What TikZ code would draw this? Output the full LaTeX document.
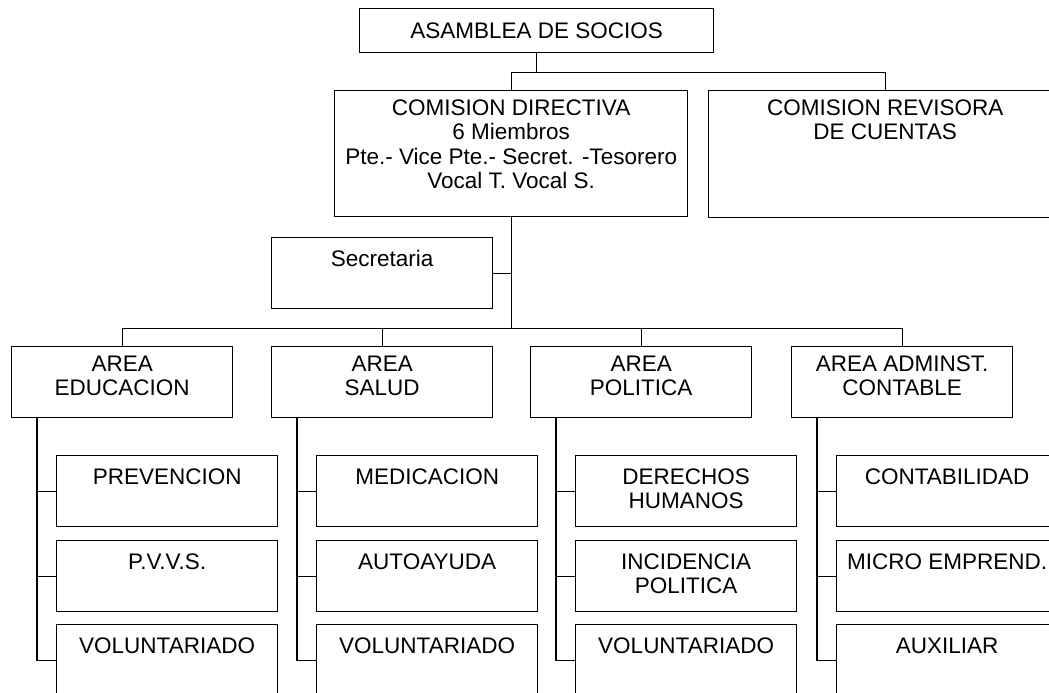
\documentclass[tikz,border=0pt]{standalone}
\usepackage{fontspec}
\setmainfont{Liberation Sans}
\usetikzlibrary{positioning}

\begin{document}
\begin{tikzpicture}[x=1pt, y=-1pt, line width=1.3pt,
unit/.style={draw, anchor=north west, minimum width=221pt, minimum height=71pt, inner sep=0pt},
caption/.style={anchor=north, align=center, inner sep=0pt, yshift=-13pt, font=\fontsize{22.5}{24.5}\selectfont},
head/.style={caption, yshift=4pt}]

\useasboundingbox (0,0) rectangle (1049,693);

\node[unit, minimum width=354pt, minimum height=44pt, label={[caption, yshift=-1pt]north:ASAMBLEA DE SOCIOS}] (asamblea) at (359,8) {};
\node[unit, minimum width=353pt, minimum height=126pt, label={[head]north:COMISION DIRECTIVA\\6 Miembros\\Pte.- Vice Pte.- Secret. -Tesorero\\Vocal T. Vocal S.}] (comision) at (334,90) {};
\node[unit, minimum width=353pt, minimum height=127pt, label={[head]north:COMISION REVISORA\\DE CUENTAS}] (revisora) at (708,90) {};
\node[unit, label={[caption]north:Secretaria}] (secretaria) at (271,237) {};

\node[unit, label={[head]north:AREA\\EDUCACION}] (educacion) at (11,346) {};
\node[unit, label={[head]north:AREA\\SALUD}] (salud) at (271,346) {};
\node[unit, label={[head]north:AREA\\POLITICA}] (politica) at (530,346) {};
\node[unit, label={[head]north:AREA ADMINST.\\CONTABLE}] (contable) at (791,346) {};

\node[unit, label={[caption]north:PREVENCION}] (prevencion) at (56,455) {};
\node[unit, label={[caption]north:P.V.V.S.}] (pvvs) at (56,540) {};
\node[unit, label={[caption]north:VOLUNTARIADO}] (volEdu) at (56,624) {};
\node[unit, label={[caption]north:MEDICACION}] (medicacion) at (316,455) {};
\node[unit, label={[caption]north:AUTOAYUDA}] (autoayuda) at (316,540) {};
\node[unit, label={[caption]north:VOLUNTARIADO}] (volSal) at (316,624) {};
\node[unit, label={[caption]north:DERECHOS\\HUMANOS}] (derechos) at (575,455) {};
\node[unit, label={[caption]north:INCIDENCIA\\POLITICA}] (incidencia) at (575,540) {};
\node[unit, label={[caption]north:VOLUNTARIADO}] (volPol) at (575,624) {};
\node[unit, label={[caption]north:CONTABILIDAD}] (contabilidad) at (836,455) {};
\node[unit, label={[caption]north:MICRO EMPREND.}] (micro) at (836,540) {};
\node[unit, label={[caption]north:AUXILIAR}] (auxiliar) at (836,624) {};

% upper levels
\draw (asamblea.south) -- ++(0,19) -| (comision.north);
\draw (asamblea.south) -- ++(0,19) -| (revisora.north);
\draw (comision.south) -- ++(0,111) coordinate (bus);
\draw (secretaria.east) -- (secretaria.east -| comision.south);
\draw (educacion.north) |- (bus) -| (contable.north);
\draw (bus) -| (salud.north);
\draw (bus) -| (politica.north);

% areas to their units
\foreach \area/\one/\two/\three in {educacion/prevencion/pvvs/volEdu, salud/medicacion/autoayuda/volSal,
  politica/derechos/incidencia/volPol, contable/contabilidad/micro/auxiliar} {
  \draw ([xshift=26pt]\area.south west) |- (\three.west);
  \draw (\one.west) -- ++(-19,0);
  \draw (\two.west) -- ++(-19,0);
}

\end{tikzpicture}
\end{document}
